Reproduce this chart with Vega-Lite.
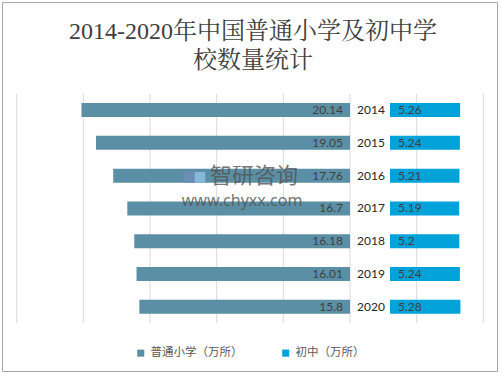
{
  "$schema": "https://vega.github.io/schema/vega-lite/v6.json",
  "width": 495,
  "height": 369,
  "autosize": {"type": "none"},
  "padding": {"left": 2, "top": 2, "right": 5, "bottom": 5},
  "background": "white",
  "config": {"view": {"stroke": "#a6a6a6", "strokeWidth": 1}},
  "data": {"values": [
    {"year": 2014, "primary": 20.14, "junior": 5.26},
    {"year": 2015, "primary": 19.05, "junior": 5.24},
    {"year": 2016, "primary": 17.76, "junior": 5.21},
    {"year": 2017, "primary": 16.7, "junior": 5.19},
    {"year": 2018, "primary": 16.18, "junior": 5.2},
    {"year": 2019, "primary": 16.01, "junior": 5.24},
    {"year": 2020, "primary": 15.8, "junior": 5.28}
  ]},
  "resolve": {"scale": {"x": "independent"}},
  "layer": [
    {
      "data": {"values": [{"g": -25}, {"g": -20}, {"g": -15}, {"g": -10}, {"g": -5}, {"g": 0}, {"g": 5}, {"g": 10}]},
      "mark": {"type": "rule", "color": "#d9d9d9", "strokeWidth": 1},
      "encoding": {
        "x": {"field": "g", "type": "quantitative", "axis": null, "scale": {"domain": [-26.1, 11.025], "nice": false, "zero": false}},
        "y": {"datum": 2013.5, "type": "quantitative", "axis": null, "scale": {"domain": [2010.852, 2021.812], "reverse": true, "nice": false, "zero": false}},
        "y2": {"datum": 2020.5}
      }
    },
    {
      "mark": {"type": "bar", "orient": "horizontal", "height": 14},
      "encoding": {
        "x": {"field": "primary", "type": "quantitative", "axis": null, "scale": {"domain": [-11.025, 26.1], "reverse": true, "nice": false, "zero": false}},
        "x2": {"datum": 0},
        "y": {"field": "year", "type": "quantitative", "axis": null, "scale": {"domain": [2010.852, 2021.812], "reverse": true, "nice": false, "zero": false}},
        "color": {
          "datum": "普通小学（万所）",
          "type": "nominal",
          "scale": {"domain": ["普通小学（万所）", "初中（万所）"], "range": ["#5b8fa5", "#00a2da"]},
          "legend": {
            "title": null, "orient": "none", "legendX": 133, "legendY": 345, "direction": "horizontal",
            "symbolType": "square", "symbolSize": 50, "symbolStrokeWidth": 0,
            "labelFont": "Noto Sans CJK SC", "labelFontSize": 11.5, "labelColor": "#595959", "columnPadding": 37
          }
        }
      }
    },
    {
      "mark": {"type": "bar", "orient": "horizontal", "height": 14},
      "encoding": {
        "x": {"field": "junior", "type": "quantitative", "axis": null, "scale": {"domain": [-29.1, 8.025], "nice": false, "zero": false}},
        "x2": {"datum": 0},
        "y": {"field": "year", "type": "quantitative", "axis": null, "scale": {"domain": [2010.852, 2021.812], "reverse": true, "nice": false, "zero": false}},
        "color": {"datum": "初中（万所）", "type": "nominal"}
      }
    },
    {
      "mark": {"type": "text", "align": "right", "baseline": "middle", "dx": -7, "font": "Lato", "fontSize": 12, "color": "#404040"},
      "encoding": {
        "x": {"datum": 0, "type": "quantitative", "axis": null, "scale": {"domain": [-11.025, 26.1], "reverse": true, "nice": false, "zero": false}},
        "y": {"field": "year", "type": "quantitative", "axis": null, "scale": {"domain": [2010.852, 2021.812], "reverse": true, "nice": false, "zero": false}},
        "text": {"field": "primary", "type": "nominal"}
      }
    },
    {
      "mark": {"type": "text", "align": "left", "baseline": "middle", "dx": 8, "font": "Lato", "fontSize": 12, "color": "#404040"},
      "encoding": {
        "x": {"datum": 0, "type": "quantitative", "axis": null, "scale": {"domain": [-29.1, 8.025], "nice": false, "zero": false}},
        "y": {"field": "year", "type": "quantitative", "axis": null, "scale": {"domain": [2010.852, 2021.812], "reverse": true, "nice": false, "zero": false}},
        "text": {"field": "junior", "type": "nominal"}
      }
    },
    {
      "mark": {"type": "text", "align": "left", "baseline": "middle", "dx": 7, "font": "Lato", "fontSize": 12, "color": "#262626"},
      "encoding": {
        "x": {"datum": 0, "type": "quantitative", "axis": null, "scale": {"domain": [-11.025, 26.1], "reverse": true, "nice": false, "zero": false}},
        "y": {"field": "year", "type": "quantitative", "axis": null, "scale": {"domain": [2010.852, 2021.812], "reverse": true, "nice": false, "zero": false}},
        "text": {"field": "year", "type": "nominal"}
      }
    },
    {
      "data": {"values": [{}]},
      "mark": {"type": "text", "align": "center", "baseline": "middle", "font": "Liberation Serif, Noto Serif CJK SC, Noto Sans CJK SC, serif", "fontSize": 24, "color": "#404040"},
      "encoding": {
        "x": {"datum": -7.275, "type": "quantitative", "axis": null, "scale": {"domain": [-26.1, 11.025], "nice": false, "zero": false}},
        "y": {"datum": 2011.624, "type": "quantitative", "axis": null, "scale": {"domain": [2010.852, 2021.812], "reverse": true, "nice": false, "zero": false}},
        "text": {"value": "2014-2020年中国普通小学及初中学"}
      }
    },
    {
      "data": {"values": [{}]},
      "mark": {"type": "text", "align": "center", "baseline": "middle", "font": "Liberation Serif, Noto Serif CJK SC, Noto Sans CJK SC, serif", "fontSize": 24, "color": "#404040"},
      "encoding": {
        "x": {"datum": -7.275, "type": "quantitative", "axis": null, "scale": {"domain": [-26.1, 11.025], "nice": false, "zero": false}},
        "y": {"datum": 2012.515, "type": "quantitative", "axis": null, "scale": {"domain": [2010.852, 2021.812], "reverse": true, "nice": false, "zero": false}},
        "text": {"value": "校数量统计"}
      }
    },
    {
      "data": {"values": [{}]},
      "mark": {"type": "text", "align": "left", "baseline": "middle", "font": "Noto Sans CJK SC", "fontSize": 22, "letterSpacing": 4, "color": "#555555", "opacity": 0.8},
      "encoding": {
        "x": {"datum": -10.5, "type": "quantitative", "axis": null, "scale": {"domain": [-26.1, 11.025], "nice": false, "zero": false}},
        "y": {"datum": 2016.02, "type": "quantitative", "axis": null, "scale": {"domain": [2010.852, 2021.812], "reverse": true, "nice": false, "zero": false}},
        "text": {"value": "智研咨询"}
      }
    },
    {
      "data": {"values": [{}]},
      "mark": {"type": "text", "align": "left", "baseline": "middle", "font": "Noto Sans", "fontSize": 16, "letterSpacing": 2.5, "color": "#555555", "opacity": 0.8},
      "encoding": {
        "x": {"datum": -12.62, "type": "quantitative", "axis": null, "scale": {"domain": [-26.1, 11.025], "nice": false, "zero": false}},
        "y": {"datum": 2016.78, "type": "quantitative", "axis": null, "scale": {"domain": [2010.852, 2021.812], "reverse": true, "nice": false, "zero": false}},
        "text": {"value": "www.chyxx.com"}
      }
    },
    {
      "data": {"values": [{}]},
      "mark": {"type": "point", "shape": "square", "filled": true, "size": 130, "color": "#6f8fb8", "opacity": 0.8},
      "encoding": {
        "x": {"datum": -12.05, "type": "quantitative", "axis": null, "scale": {"domain": [-26.1, 11.025], "nice": false, "zero": false}},
        "y": {"datum": 2016.05, "type": "quantitative", "axis": null, "scale": {"domain": [2010.852, 2021.812], "reverse": true, "nice": false, "zero": false}}
      }
    },
    {
      "data": {"values": [{}]},
      "mark": {"type": "point", "shape": "square", "filled": true, "size": 110, "color": "#8fc3e6", "opacity": 0.8},
      "encoding": {
        "x": {"datum": -11.25, "type": "quantitative", "axis": null, "scale": {"domain": [-26.1, 11.025], "nice": false, "zero": false}},
        "y": {"datum": 2016.05, "type": "quantitative", "axis": null, "scale": {"domain": [2010.852, 2021.812], "reverse": true, "nice": false, "zero": false}}
      }
    }
  ]
}
